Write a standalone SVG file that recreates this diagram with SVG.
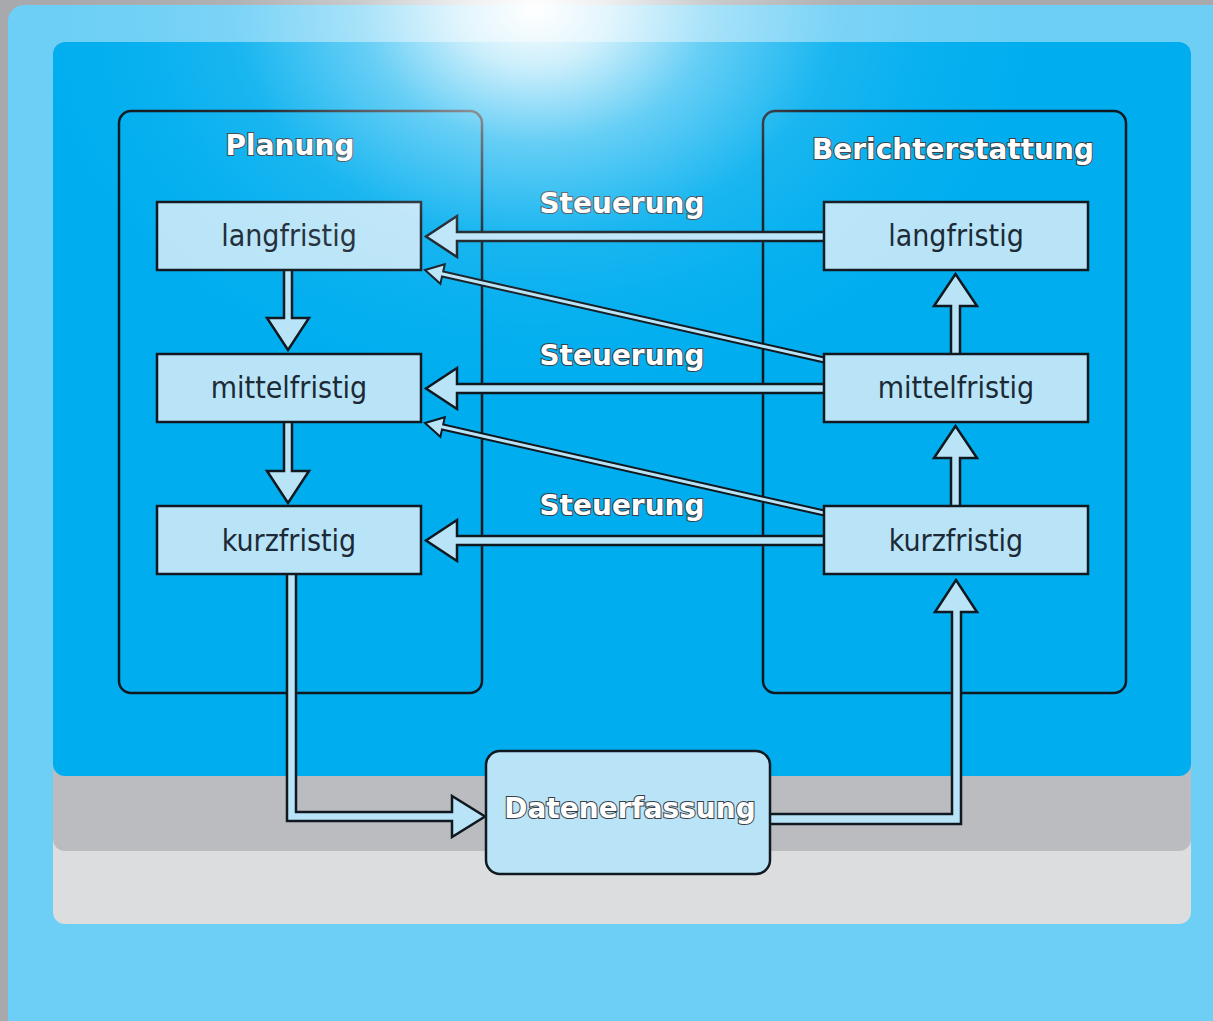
<svg xmlns="http://www.w3.org/2000/svg" width="1213" height="1021" viewBox="0 0 1213 1021">
<defs>
<radialGradient id="glow" gradientUnits="userSpaceOnUse" cx="0" cy="0" r="1" gradientTransform="translate(535 10) scale(500 380)">
<stop offset="0" stop-color="#fff" stop-opacity="1"/>
<stop offset="0.15" stop-color="#fff" stop-opacity="0.8"/>
<stop offset="0.35" stop-color="#fff" stop-opacity="0.4"/>
<stop offset="0.6" stop-color="#fff" stop-opacity="0.1"/>
<stop offset="0.8" stop-color="#fff" stop-opacity="0.03"/>
<stop offset="1" stop-color="#fff" stop-opacity="0"/>
</radialGradient>
</defs>
<style>
.cont{fill:none;stroke:#101820;stroke-width:2.5}
.box{fill:#b9e4f8;stroke:#101820;stroke-width:2.5}
.arr{fill:#b9e4f8;stroke:#101820;stroke-width:2.5;stroke-linejoin:miter}
.thin{fill:#b9e4f8;stroke:#101820;stroke-width:2;stroke-linejoin:miter}
.lbl{font-family:"DejaVu Sans Condensed","DejaVu Sans",Verdana,sans-serif;font-stretch:condensed;font-size:30px;fill:#1c2a36;text-anchor:middle}
.ttl{font-family:"DejaVu Sans",Verdana,sans-serif;font-weight:bold;font-size:28px;fill:#fff;stroke:#3a3f45;stroke-width:2;paint-order:stroke;text-anchor:middle}
</style>
<rect x="0" y="0" width="1213" height="1021" fill="#a7a9ac"/>
<rect x="8" y="5" width="1230" height="1040" rx="16" fill="#6dcff6"/>
<rect x="53" y="42" width="1138" height="882" rx="12" fill="#dcdddf"/>
<rect x="53" y="42" width="1138" height="809" rx="12" fill="#bbbcc0"/>
<rect x="53" y="42" width="1138" height="734" rx="12" fill="#00aeef"/>
<g id="planung">
<rect class="cont" x="119" y="111" width="363" height="582" rx="12"/>
<text class="ttl" x="290" y="155">Planung</text>
</g>
<g id="berichterstattung">
<rect class="cont" x="763" y="111" width="363" height="582" rx="12"/>
<text class="ttl" x="953" y="159">Berichterstattung</text>
</g>
<g id="connectors">
<path class="arr" d="M 826 232 L 457 232 L 457 216 L 426 236.5 L 457 257 L 457 241 L 826 241"/>
<path class="arr" d="M 826 384 L 457 384 L 457 368 L 426 388.5 L 457 409 L 457 393 L 826 393"/>
<path class="arr" d="M 826 536 L 457 536 L 457 520 L 426 540.5 L 457 561 L 457 545 L 826 545"/>
<path class="thin" d="M 826.5 358 L 443.2 271.6 L 444.8 264.2 L 425 270 L 440.4 283.8 L 442 276.4 L 825.5 362.8 Z"/>
<path class="thin" d="M 826.5 511 L 443.2 424.6 L 444.8 417.2 L 425 423 L 440.4 436.8 L 442 429.4 L 825.5 515.8 Z"/>
<path class="arr" d="M 284 268 L 284 318 L 267 318 L 288 350 L 309 318 L 292 318 L 292 268"/>
<path class="arr" d="M 284 420 L 284 471 L 267 471 L 288 503 L 309 471 L 292 471 L 292 420"/>
<path class="arr" d="M 951 356 L 951 306 L 934 306 L 955.5 274 L 977 306 L 960 306 L 960 356"/>
<path class="arr" d="M 951 508 L 951 458 L 934 458 L 955.5 426 L 977 458 L 960 458 L 960 508"/>
<path class="arr" d="M 287 572 L 287 821 L 452 821 L 452 837 L 485 816.5 L 452 796 L 452 812 L 296 812 L 296 572"/>
<path class="arr" d="M 768 824 L 961 824 L 961 612 L 977 612 L 956 580 L 935 612 L 952 612 L 952 814 L 768 814"/>
<text class="ttl" x="622" y="213">Steuerung</text>
<text class="ttl" x="622" y="365">Steuerung</text>
<text class="ttl" x="622" y="515">Steuerung</text>
</g>
<g id="p-lang"><rect class="box" x="157" y="202" width="264" height="68"/><text class="lbl" x="289" y="246">langfristig</text></g>
<g id="p-mittel"><rect class="box" x="157" y="354" width="264" height="68"/><text class="lbl" x="289" y="398">mittelfristig</text></g>
<g id="p-kurz"><rect class="box" x="157" y="506" width="264" height="68"/><text class="lbl" x="289" y="551">kurzfristig</text></g>
<g id="b-lang"><rect class="box" x="824" y="202" width="264" height="68"/><text class="lbl" x="956" y="246">langfristig</text></g>
<g id="b-mittel"><rect class="box" x="824" y="354" width="264" height="68"/><text class="lbl" x="956" y="398">mittelfristig</text></g>
<g id="b-kurz"><rect class="box" x="824" y="506" width="264" height="68"/><text class="lbl" x="956" y="551">kurzfristig</text></g>
<g id="datenerfassung"><rect class="box" x="486" y="751" width="284" height="123" rx="14"/><text class="ttl" x="630" y="818">Datenerfassung</text></g>
<rect x="0" y="0" width="1213" height="720" fill="url(#glow)"/>
</svg>
